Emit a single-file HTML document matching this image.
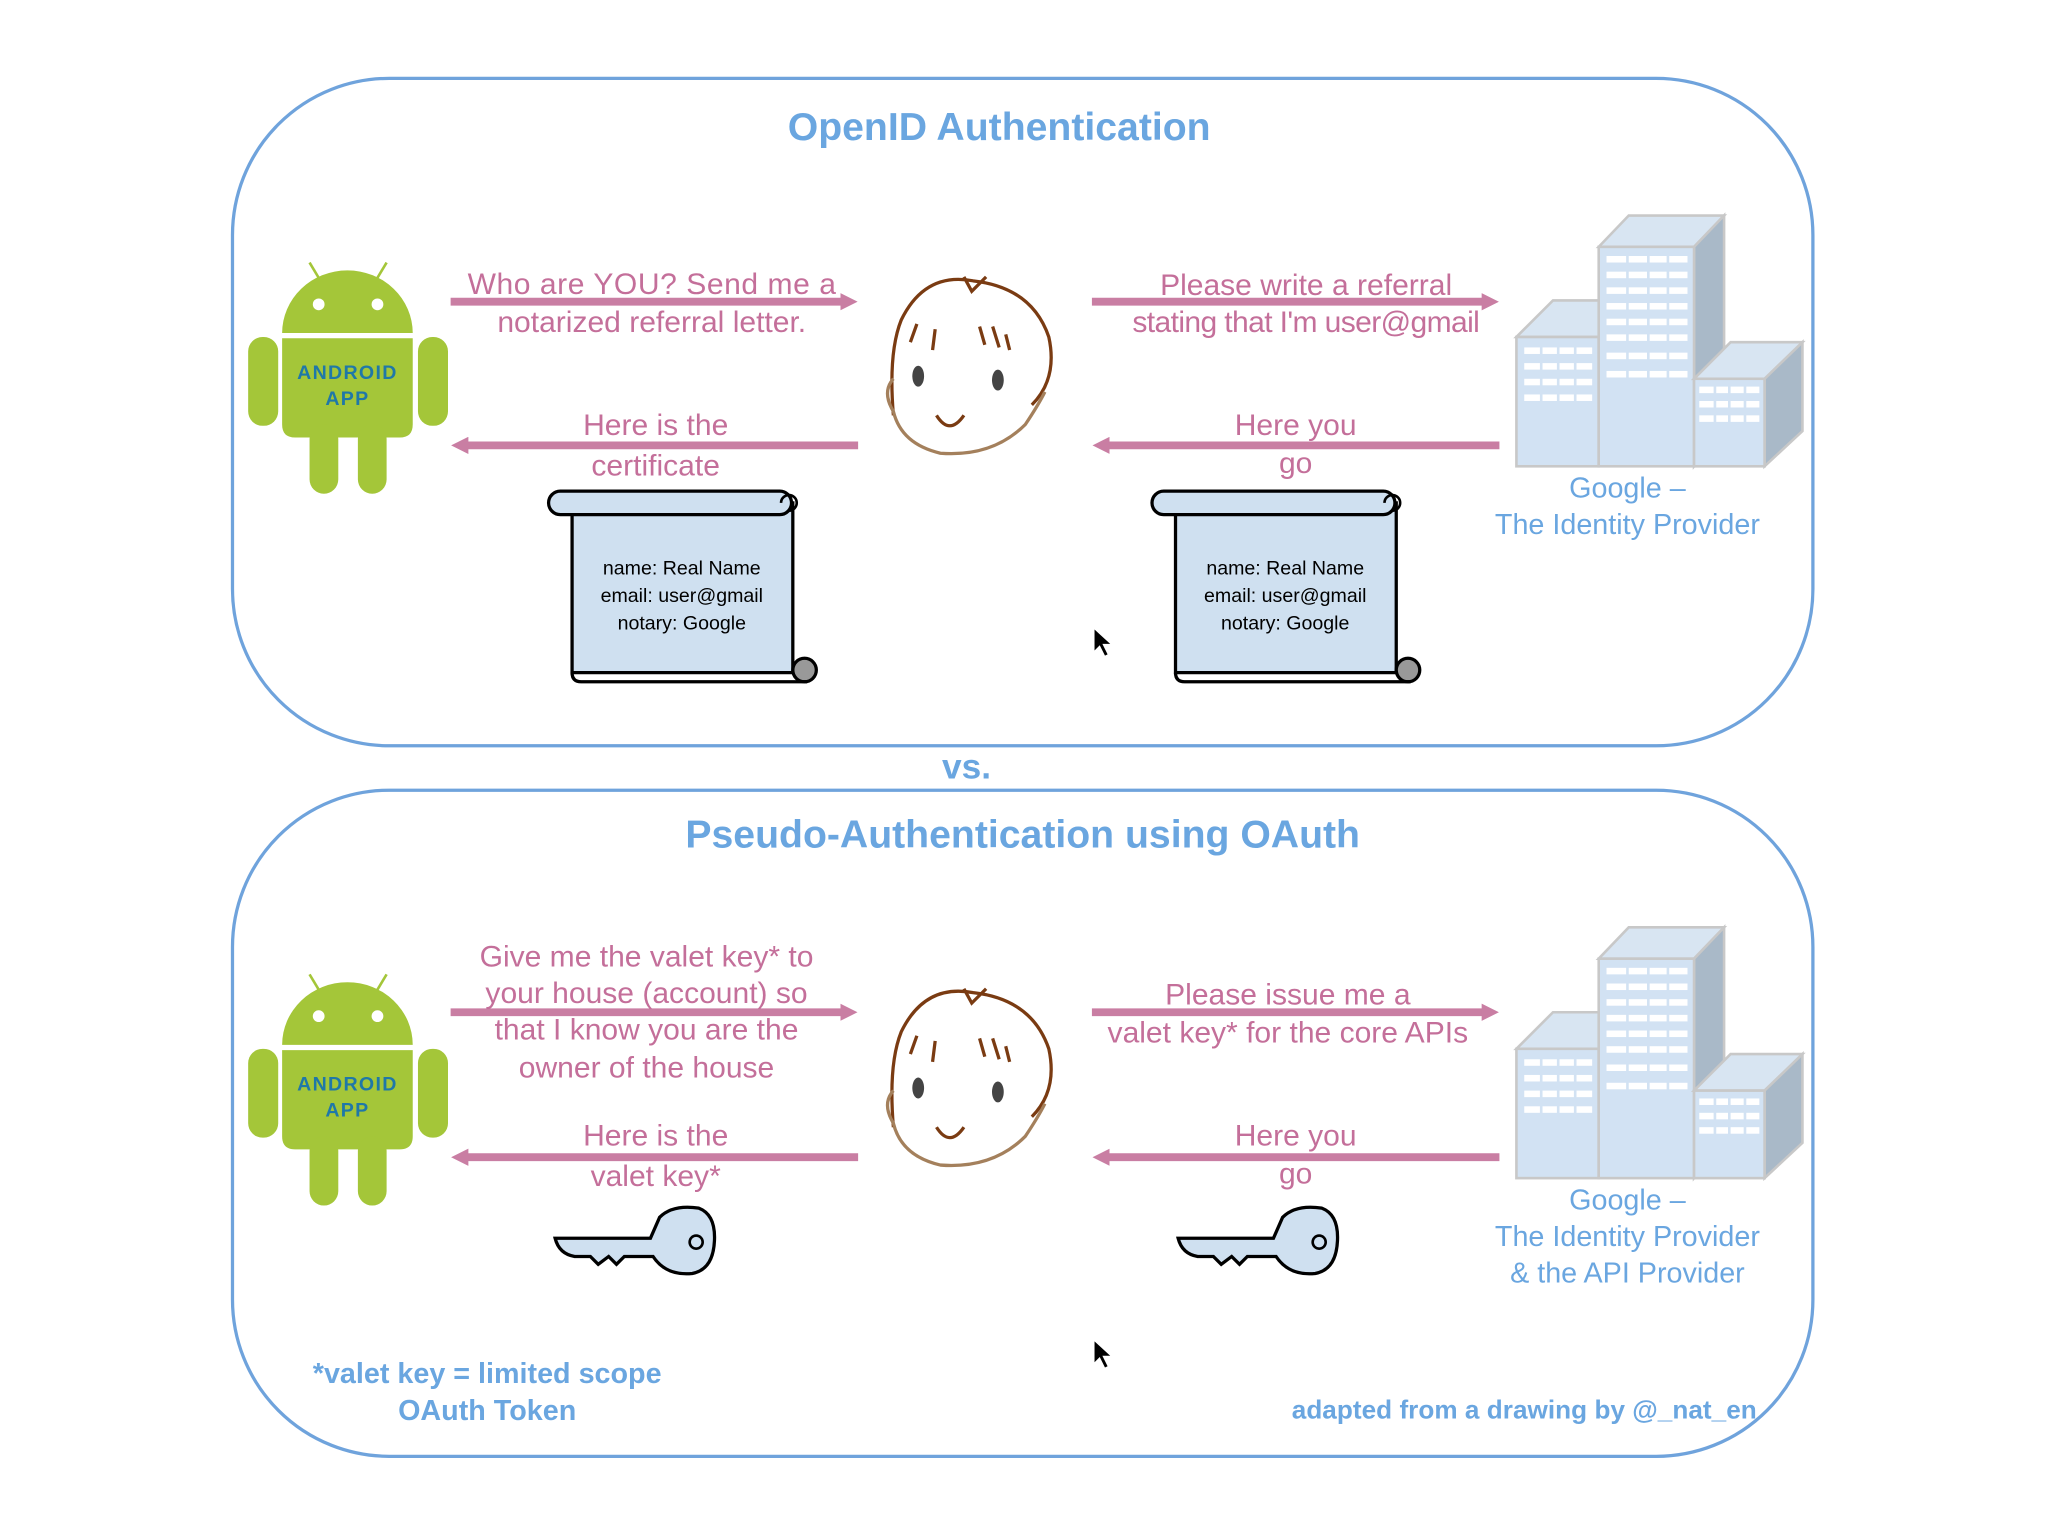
<!DOCTYPE html>
<html><head><meta charset="utf-8"><style>
html,body{margin:0;padding:0;background:#fff;}
svg{display:block;}
text{font-family:"Liberation Sans",sans-serif;}
</style></head><body>
<svg width="2048" height="1536" viewBox="0 0 1568 1176" xmlns="http://www.w3.org/2000/svg">
<defs>
<g id="android">
  <line x1="237" y1="201" x2="246" y2="216" stroke="#a4c639" stroke-width="2"/>
  <line x1="296" y1="201" x2="287" y2="216" stroke="#a4c639" stroke-width="2"/>
  <path d="M216 255 A50 48 0 0 1 316 255 Z" fill="#a4c639"/>
  <circle cx="244" cy="233" r="4.5" fill="#fff"/>
  <circle cx="289" cy="233" r="4.5" fill="#fff"/>
  <path d="M216 259 H316 V325 Q316 335 306 335 H226 Q216 335 216 325 Z" fill="#a4c639"/>
  <rect x="190" y="258" width="23" height="68" rx="11" fill="#a4c639"/>
  <rect x="320" y="258" width="23" height="68" rx="11" fill="#a4c639"/>
  <rect x="237" y="325" width="22" height="53" rx="11" fill="#a4c639"/>
  <rect x="274" y="325" width="22" height="53" rx="11" fill="#a4c639"/>
  <text x="266" y="290" text-anchor="middle" font-size="15" fill="#1f78a8" letter-spacing="1" font-weight="bold">ANDROID</text>
  <text x="266" y="310" text-anchor="middle" font-size="15" fill="#1f78a8" letter-spacing="1" font-weight="bold">APP</text>
</g>
<g id="face">
  <path d="M684 318 Q680 270 690 245 Q708 208 745 215 Q790 220 803 258 Q810 290 790 310" fill="none" stroke="#7a3b12" stroke-width="2.5"/>
  <path d="M738 212 L744 223 L755 212" fill="none" stroke="#7a3b12" stroke-width="2.5"/>
  <path d="M684 290 Q675 300 684 315 Q690 340 720 347 Q760 350 785 325 Q795 310 800 300" fill="none" stroke="#a4805c" stroke-width="2.5"/>
  <line x1="702" y1="248" x2="697" y2="262" stroke="#7a3b12" stroke-width="2.5"/>
  <line x1="716" y1="252" x2="714" y2="268" stroke="#7a3b12" stroke-width="2.5"/>
  <line x1="750" y1="250" x2="754" y2="264" stroke="#7a3b12" stroke-width="2.5"/>
  <line x1="760" y1="250" x2="765" y2="266" stroke="#7a3b12" stroke-width="2.5"/>
  <line x1="770" y1="256" x2="773" y2="268" stroke="#7a3b12" stroke-width="2.5"/>
  <ellipse cx="703" cy="288" rx="4.5" ry="8" fill="#444"/>
  <ellipse cx="764" cy="291" rx="4.5" ry="8" fill="#444"/>
  <path d="M717 318 Q727 334 738 318" fill="none" stroke="#7a3b12" stroke-width="2.5"/>
</g>
<g id="scroll">
  <path d="M438 385 H607 V515 H438 Z" fill="#cfe0f0" stroke="#000" stroke-width="2.5"/>
  <rect x="420" y="376" width="186" height="18" rx="9" fill="#cfe0f0" stroke="#000" stroke-width="2.5"/>
  <path d="M598 385 a6 6 0 1 1 6 6" fill="none" stroke="#000" stroke-width="2"/>
  <circle cx="616" cy="513" r="9" fill="#999" stroke="#000" stroke-width="2.5"/>
  <path d="M438 515 Q438 522 445 522 H618" fill="none" stroke="#000" stroke-width="2.5"/>
  <text x="522" y="440" text-anchor="middle" font-size="15">name: Real Name</text>
  <text x="522" y="461" text-anchor="middle" font-size="15">email: user@gmail</text>
  <text x="522" y="482" text-anchor="middle" font-size="15">notary: Google</text>
</g>
<g id="bldg" stroke="#c8c8c8" stroke-width="2">
  <path d="M1161 258 L1189 230 H1252 L1224 258 Z" fill="#d8e5f2"/>
  <rect x="1161" y="258" width="63" height="99" fill="#d2e2f3"/>
  <path d="M1224 189 L1247 165 H1320 L1297 189 Z" fill="#d8e5f2"/>
  <path d="M1297 189 L1320 165 V330 L1297 357 Z" fill="#a9b9c8"/>
  <rect x="1224" y="189" width="73" height="168" fill="#d2e2f3"/>
  <path d="M1297 290 L1325 262 H1380 L1351 290 Z" fill="#d8e5f2"/>
  <path d="M1351 290 L1380 262 V330 L1351 357 Z" fill="#a9b9c8"/>
  <rect x="1297" y="290" width="54" height="67" fill="#d2e2f3"/>
  <g fill="#fff" stroke="none">
    <rect x="1167" y="266" width="52" height="5"/><rect x="1167" y="278" width="52" height="5"/><rect x="1167" y="290" width="52" height="5"/><rect x="1167" y="302" width="52" height="5"/>
    <rect x="1230" y="196" width="62" height="5"/><rect x="1230" y="208" width="62" height="5"/><rect x="1230" y="220" width="62" height="5"/><rect x="1230" y="232" width="62" height="5"/><rect x="1230" y="244" width="62" height="5"/><rect x="1230" y="256" width="62" height="5"/><rect x="1230" y="270" width="62" height="5"/><rect x="1230" y="284" width="62" height="5"/>
    <rect x="1301" y="296" width="46" height="5"/><rect x="1301" y="307" width="46" height="5"/><rect x="1301" y="318" width="46" height="5"/>
  </g>
  <g fill="#d2e2f3" stroke="none">
    <rect x="1179" y="262" width="2" height="50"/><rect x="1192" y="262" width="2" height="50"/><rect x="1205" y="262" width="2" height="50"/>
    <rect x="1245" y="192" width="2" height="100"/><rect x="1261" y="192" width="2" height="100"/><rect x="1276" y="192" width="2" height="100"/>
    <rect x="1312" y="292" width="2" height="32"/><rect x="1323" y="292" width="2" height="32"/><rect x="1335" y="292" width="2" height="32"/>
  </g>
</g>
<g id="key">
  <path d="M425 948 H498 L505 932 Q515 922 535 925 Q548 930 547 950 Q546 972 530 975 Q510 977 500 962 H478 L472 968 L466 962 L458 968 L452 962 L440 962 Q428 960 425 948 Z" fill="#cfe0f0" stroke="#000" stroke-width="2.5"/>
  <circle cx="533" cy="951" r="5" fill="none" stroke="#000" stroke-width="2"/>
</g>
<g id="cursor">
  <path d="M0 0 L0 16 L4 12 L8 20 L10 19 L6 11 L12 11 Z" fill="#000"/>
</g>
<marker id="ah" viewBox="0 0 10 10" refX="5" refY="5" markerWidth="2.2" markerHeight="2.2" orient="auto"><path d="M0 0 L10 5 L0 10 Z" fill="#c97ea3"/></marker>
</defs>

<rect x="178" y="60" width="1210" height="511" rx="120" fill="none" stroke="#6fa3dc" stroke-width="2.5"/>
<rect x="178" y="605" width="1210" height="510" rx="120" fill="none" stroke="#6fa3dc" stroke-width="2.5"/>
<text x="765" y="107" text-anchor="middle" font-size="30" font-weight="bold" fill="#6aa6e0">OpenID Authentication</text>
<text x="740" y="596" text-anchor="middle" font-size="27" font-weight="bold" fill="#6aa6e0">vs.</text>
<text x="783" y="649" text-anchor="middle" font-size="30" font-weight="bold" fill="#6aa6e0">Pseudo-Authentication using OAuth</text>

<use href="#android"/>
<use href="#face"/>
<g stroke="#c97ea3" stroke-width="6" marker-end="url(#ah)">
  <line x1="345" y1="231" x2="650" y2="231"/>
  <line x1="657" y1="341" x2="352" y2="341"/>
  <line x1="836" y1="231" x2="1141" y2="231"/>
  <line x1="1148" y1="341" x2="843" y2="341"/>
</g>
<g fill="#c46f9a" font-size="23" text-anchor="middle">
  <text x="499" y="225" textLength="282">Who are YOU? Send me a</text>
  <text x="499" y="254">notarized referral letter.</text>
  <text x="502" y="333">Here is the</text>
  <text x="502" y="364">certificate</text>
  <text x="1000" y="226">Please write a referral</text>
  <text x="1000" y="254" textLength="266">stating that I'm user@gmail</text>
  <text x="992" y="333">Here you</text>
  <text x="992" y="362">go</text>
</g>
<use href="#scroll"/>
<use href="#scroll" x="462"/>
<use href="#bldg"/>
<text x="1246" y="381" text-anchor="middle" font-size="22" fill="#6aa6e0">Google –</text>
<text x="1246" y="409" text-anchor="middle" font-size="22" fill="#6aa6e0">The Identity Provider</text>
<use href="#cursor" x="838" y="482"/>

<use href="#android" y="545"/>
<use href="#face" y="545"/>
<g stroke="#c97ea3" stroke-width="6" marker-end="url(#ah)">
  <line x1="345" y1="775" x2="650" y2="775"/>
  <line x1="657" y1="886" x2="352" y2="886"/>
  <line x1="836" y1="775" x2="1141" y2="775"/>
  <line x1="1148" y1="886" x2="843" y2="886"/>
</g>
<g fill="#c46f9a" font-size="23" text-anchor="middle">
  <text x="495" y="740">Give me the valet key* to</text>
  <text x="495" y="768">your house (account) so</text>
  <text x="495" y="796">that I know you are the</text>
  <text x="495" y="825">owner of the house</text>
  <text x="502" y="877">Here is the</text>
  <text x="502" y="908">valet key*</text>
  <text x="986" y="769">Please issue me a</text>
  <text x="986" y="798">valet key* for the core APIs</text>
  <text x="992" y="877">Here you</text>
  <text x="992" y="906">go</text>
</g>
<use href="#key"/>
<use href="#key" x="477"/>
<use href="#bldg" y="545"/>
<text x="1246" y="926" text-anchor="middle" font-size="22" fill="#6aa6e0">Google –</text>
<text x="1246" y="954" text-anchor="middle" font-size="22" fill="#6aa6e0">The Identity Provider</text>
<text x="1246" y="982" text-anchor="middle" font-size="22" fill="#6aa6e0">&amp; the API Provider</text>
<use href="#cursor" x="838" y="1027"/>
<text x="373" y="1059" text-anchor="middle" font-size="22" font-weight="bold" fill="#6aa6e0">*valet key = limited scope</text>
<text x="373" y="1087" text-anchor="middle" font-size="22" font-weight="bold" fill="#6aa6e0">OAuth Token</text>
<text x="1345" y="1086" text-anchor="end" font-size="20" font-weight="bold" fill="#6aa6e0" textLength="356">adapted from a drawing by @_nat_en</text>
</svg>
</body></html>
